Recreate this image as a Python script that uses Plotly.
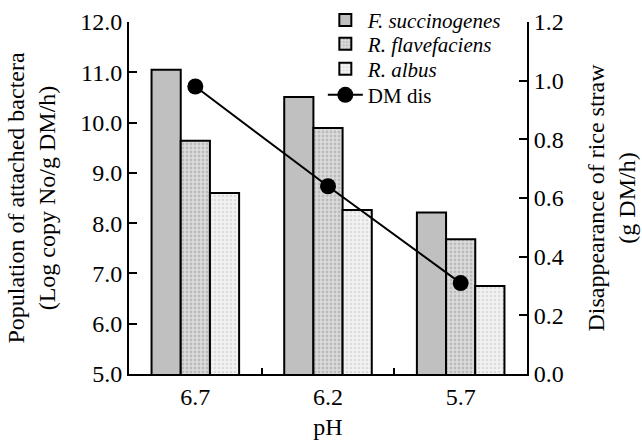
import plotly.graph_objects as go

ph = ["6.7", "6.2", "5.7"]
f_succ = [11.05, 10.51, 8.21]
r_flav = [9.64, 9.89, 7.68]
r_albus = [8.60, 8.26, 6.75]
dm_dis = [0.98, 0.64, 0.31]

FONT = "Liberation Serif, Times New Roman, serif"
fig = go.Figure()
fig.add_trace(go.Bar(x=ph, y=f_succ, name="<i>F. succinogenes</i>", legend="legend",
                     marker=dict(color="#c0c0c0", line=dict(color="black", width=2))))
fig.add_trace(go.Bar(x=ph, y=r_flav, name="<i>R. flavefaciens</i>", legend="legend2",
                     marker=dict(color="#c8c8c8", line=dict(color="black", width=2),
                                 pattern=dict(shape=".", fgcolor="#9a9a9a", bgcolor="#dcdcdc",
                                              size=4, solidity=0.4))))
fig.add_trace(go.Bar(x=ph, y=r_albus, name="<i>R. albus</i>", legend="legend3",
                     marker=dict(color="#ececec", line=dict(color="black", width=2),
                                 pattern=dict(shape=".", fgcolor="#c4c4c4", bgcolor="#f2f2f2",
                                              size=4, solidity=0.3))))
fig.add_trace(go.Scatter(x=ph, y=dm_dis, name="DM dis", yaxis="y2", mode="lines+markers",
                         legend="legend4",
                         line=dict(color="black", width=2),
                         marker=dict(color="black", size=16, symbol="circle")))

axfont = dict(family=FONT, size=24, color="black")
legfont = dict(family=FONT, size=21, color="black")


def leg(y):
    return dict(x=0.487, y=y, xanchor="left", yanchor="middle", bgcolor="rgba(0,0,0,0)",
                font=legfont, itemwidth=35)


fig.update_layout(
    width=642, height=444,
    margin=dict(l=129, r=115, t=22, b=70, autoexpand=False),
    paper_bgcolor="white", plot_bgcolor="white",
    font=axfont,
    barmode="group", bargap=0.34, bargroupgap=0,
    showlegend=True,
    legend=leg(1.005), legend2=leg(0.937), legend3=leg(0.866), legend4=leg(0.792),
    xaxis=dict(type="category", range=[-0.5, 2.5], showline=True, linecolor="black", linewidth=2,
               ticks="inside", tickson="boundaries", ticklen=6, tickwidth=2, tickcolor="black",
               showgrid=False, zeroline=False, tickfont=axfont,
               title=dict(text="pH", font=axfont, standoff=9)),
    yaxis=dict(range=[5, 12], dtick=1, tickformat=".1f", showline=True, linecolor="black", linewidth=2,
               ticks="inside", ticklen=8, tickwidth=2, tickcolor="black", showgrid=False, zeroline=False,
               tickfont=axfont,
               title=dict(text="Population of attached bactera<br>(Log copy No/g DM/h)", font=axfont, standoff=18)),
    yaxis2=dict(range=[0, 1.2], dtick=0.2, tickformat=".1f", overlaying="y", side="right",
                showline=True, linecolor="black", linewidth=2,
                ticks="inside", ticklen=8, tickwidth=2, tickcolor="black", showgrid=False, zeroline=False,
                tickfont=axfont,
                title=dict(text="Disappearance of rice straw<br>(g DM/h)", font=axfont, standoff=24)),
)
fig.write_html("out.html")
